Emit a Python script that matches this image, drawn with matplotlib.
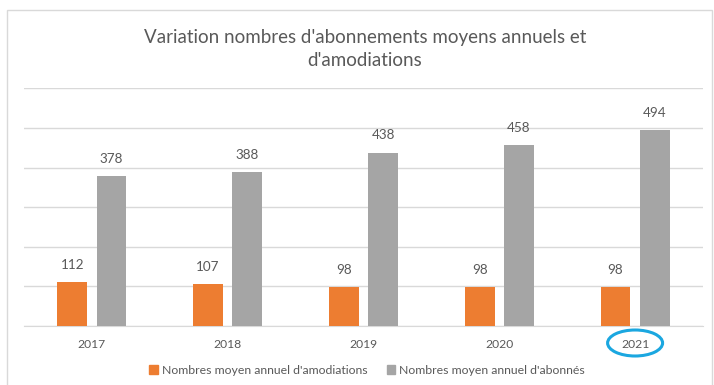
import matplotlib
matplotlib.use("Agg")
import matplotlib.pyplot as plt
import matplotlib.patches as mpatches
import matplotlib.transforms as mtransforms
import numpy as np

years = ["2017", "2018", "2019", "2020", "2021"]
amodiations = [112, 107, 98, 98, 98]
abonnes = [378, 388, 438, 458, 494]
legend_labels = ["Nombres moyen annuel d'amodiations", "Nombres moyen annuel d'abonnés"]

ORANGE = "#ED7D31"
GREY = "#A5A5A5"
TEXT = "#595959"
GRID = "#D9D9D9"

plt.rcParams["font.family"] = ["Lato", "DejaVu Sans"]

W, H = 714, 385
fig = plt.figure(figsize=(W / 100, H / 100), dpi=100)

# light frame around the chart area
fig.patches.append(mpatches.Rectangle((7 / W, -0.1), (712 - 7) / W, 1.1 - 10 / H,
                                      transform=fig.transFigure, fill=False,
                                      edgecolor="#D9D9D9", linewidth=1))

ax = fig.add_axes([24 / W, (H - 326) / H, 679 / W, (326 - 88.4) / H])
x = np.arange(len(years))
bw = 0.22
off = 0.144
b1 = ax.bar(x - off, amodiations, bw, color=ORANGE, zorder=3)
b2 = ax.bar(x + off, abonnes, bw, color=GREY, zorder=3)

for bars, vals in ((b1, amodiations), (b2, abonnes)):
    for rect, v in zip(bars, vals):
        ax.annotate(str(v), (rect.get_x() + rect.get_width() / 2, v),
                    xytext=(0, 8), textcoords="offset points",
                    ha="center", va="bottom", fontsize=9.7, color=TEXT)

ax.set_xlim(-0.5, len(years) - 0.5)
ax.set_ylim(0, 600)
ax.set_yticks(np.arange(0, 601, 100))
ax.yaxis.grid(True, color=GRID, linewidth=1, zorder=0)
ax.tick_params(axis="y", left=False, labelleft=False)
ax.set_xticks(x)
ax.set_xticklabels(years, fontsize=8.7, color=TEXT)
ax.tick_params(axis="x", length=0, pad=9)
for s in ("left", "right", "top"):
    ax.spines[s].set_visible(False)
ax.spines["bottom"].set_color(GRID)

fig.text(365 / W, 1 - 49 / H, "Variation nombres d'abonnements moyens annuels et\nd'amodiations",
         ha="center", va="center", fontsize=13.5, color=TEXT, linespacing=1.4)

handles = [mpatches.Patch(color=ORANGE), mpatches.Patch(color=GREY)]
fig.legend(handles, legend_labels, loc="center", bbox_to_anchor=(367 / W, 1 - 370 / H),
           ncol=2, frameon=False, fontsize=8.8, labelcolor=TEXT,
           handlelength=0.7, handleheight=0.7, handletextpad=0.3, columnspacing=1.6)

# highlight the latest year
trans = mtransforms.blended_transform_factory(ax.transData, fig.transFigure)
ax.add_patch(mpatches.Ellipse((4, 1 - 343 / H), 55 / 135.8, 26 / H, transform=trans,
                              fill=False, edgecolor="#1BA7E0", linewidth=2.2, clip_on=False))

fig.savefig("out.png", dpi=100)
